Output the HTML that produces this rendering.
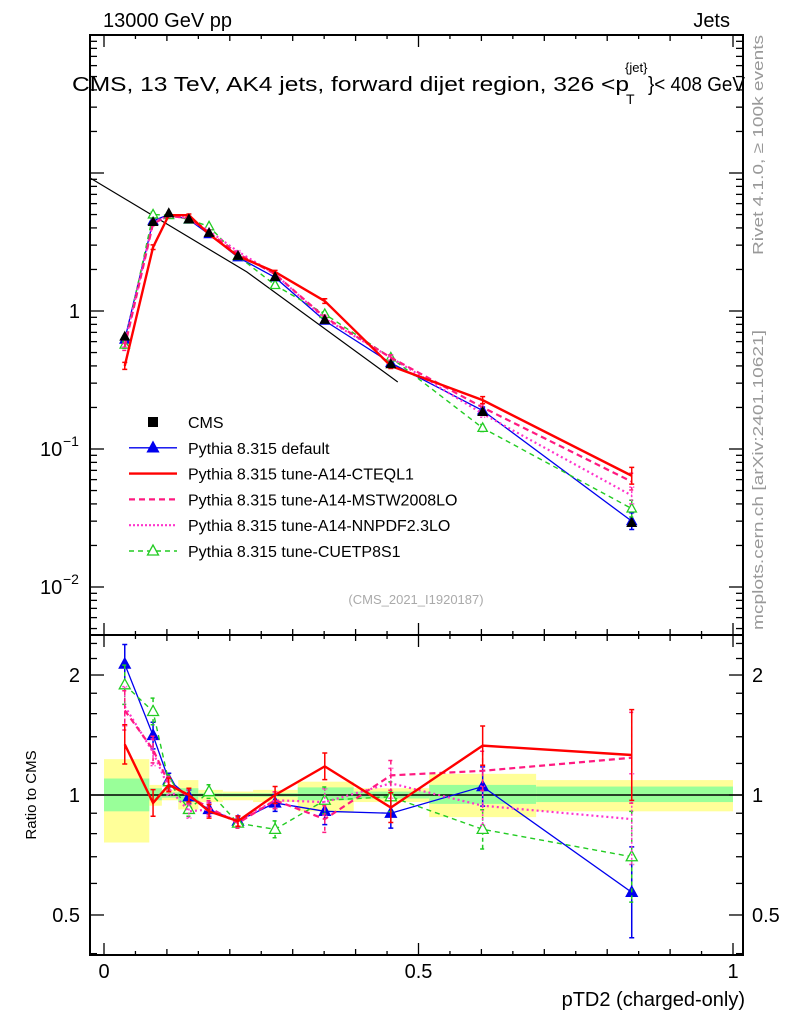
<!DOCTYPE html>
<html><head><meta charset="utf-8"><style>
html,body{margin:0;padding:0;background:#fff;}
svg{display:block;font-family:"Liberation Sans",sans-serif;}
</style></head><body>
<svg id="c" width="786" height="1024" viewBox="0 0 786 1024" xmlns="http://www.w3.org/2000/svg">
<g id="bands"></g>
<g id="maing"></g>
<g id="ratiog"></g>
<g id="axes"></g>
<text x="103" y="27" font-size="20">13000 GeV pp</text>
<text x="730" y="27" font-size="20" text-anchor="end">Jets</text>
<text x="72" y="91" font-size="20" textLength="557" lengthAdjust="spacingAndGlyphs">CMS, 13 TeV, AK4 jets, forward dijet region, 326 &lt;p</text>
<text x="625" y="72" font-size="13">{jet}</text>
<text x="626" y="104" font-size="14">T</text>
<text x="648" y="91" font-size="20" textLength="97" lengthAdjust="spacingAndGlyphs">}&lt; 408 GeV</text>
<text transform="translate(763,255) rotate(-90)" font-size="15" fill="#999" textLength="220" lengthAdjust="spacingAndGlyphs">Rivet 4.1.0, ≥ 100k events</text>
<text transform="translate(763,630) rotate(-90)" font-size="15" fill="#999" textLength="300" lengthAdjust="spacingAndGlyphs">mcplots.cern.ch [arXiv:2401.10621]</text>
<text x="416" y="604" font-size="13" fill="#aaa" text-anchor="middle">(CMS_2021_I1920187)</text>
<text transform="translate(36,795) rotate(-90)" font-size="15" text-anchor="middle">Ratio to CMS</text>
<text x="745" y="1006" font-size="20" text-anchor="end">pTD2 (charged-only)</text>
<g id="legend"></g>
</svg>
<script>
const xVals=[0.033,0.078,0.103,0.135,0.167,0.213,0.272,0.351,0.456,0.602,0.839];
const binEdges=[0,0.072,0.092,0.118,0.150,0.189,0.237,0.308,0.397,0.517,0.687,1.0];
const cmsMain=[0.65,4.4,5.1,4.6,3.67,2.5,1.76,0.86,0.41,0.185,0.029];
const defaultMain=[0.62,4.5,5.0,4.6,3.6,2.45,1.75,0.85,0.42,0.19,0.03];
const cteqMain=[0.40,2.9,4.95,4.95,3.6,2.5,1.92,1.18,0.40,0.226,0.064];
const mstwMain=[0.55,4.3,4.9,4.7,3.7,2.6,1.85,0.90,0.46,0.20,0.058];
const nnpdfMain=[0.58,4.4,4.9,4.7,3.8,2.7,1.85,0.88,0.46,0.18,0.046];
const cuetMain=[0.57,5.0,4.95,4.6,4.1,2.5,1.54,0.95,0.46,0.142,0.037];
const guideX=[-0.022,0.227,0.467];
const guideY=[9.2,1.92,0.306];
const defaultRatio=[2.13,1.41,1.09,0.99,0.92,0.86,0.955,0.91,0.90,1.05,0.57];
const cteqRatio=[1.34,0.955,1.06,1.0,0.91,0.86,1.0,1.18,0.93,1.33,1.26];
const mstwRatio=[1.63,1.30,1.07,0.99,0.93,0.85,0.97,0.87,1.12,1.15,1.24];
const nnpdfRatio=[1.67,1.28,1.04,0.91,0.92,0.86,0.97,0.96,1.07,0.94,0.87];
const cuetRatio=[1.89,1.62,1.08,0.92,1.02,0.85,0.82,0.97,0.99,0.82,0.70];
const ratioErr=[0.12,0.08,0.04,0.04,0.04,0.03,0.05,0.08,0.09,0.12,0.3];
const yellowUp=[1.23,1.06,1.03,1.09,1.03,1.02,1.03,1.08,1.04,1.13,1.09];
const yellowDn=[0.76,0.94,0.97,0.92,0.96,0.97,0.96,0.91,0.96,0.88,0.91];
const greenUp=[1.10,1.04,1.015,1.04,1.01,1.01,1.01,1.045,1.02,1.06,1.05];
const greenDn=[0.91,0.97,0.985,0.96,0.99,0.99,0.99,0.97,0.98,0.95,0.96];
const xTickLabels=["0","0.5","1"];
const ratioTickLabels=["0.5","1","2"];

const NS="http://www.w3.org/2000/svg";
const X0=104,X1=733,L=90,R=743,MT=35,MB=635,RB=955;
const sx=v=>X0+(X1-X0)*v;
const sy=v=>311-138*Math.log10(v);
const ry=v=>795-398.6*Math.log10(v);
function mk(parent,tag,attrs){const e=document.createElementNS(NS,tag);for(const k in attrs)e.setAttribute(k,attrs[k]);parent.appendChild(e);return e;}
const bands=document.getElementById('bands'),mg=document.getElementById('maing'),rg=document.getElementById('ratiog'),ax=document.getElementById('axes'),lg=document.getElementById('legend');

for(let i=0;i<xVals.length;i++){
  const a=sx(binEdges[i]),b=sx(binEdges[i+1]);
  const y1=mk(bands,'rect',{x:a,y:ry(yellowUp[i]),width:b-a,height:ry(yellowDn[i])-ry(yellowUp[i]),fill:'#ffff99'});
  
  
  const g1=mk(bands,'rect',{x:a,y:ry(greenUp[i]),width:b-a,height:ry(greenDn[i])-ry(greenUp[i]),fill:'#99ff99'});
  
  
}
const one=mk(rg,'line',{x1:L,x2:R,y1:ry(1),y2:ry(1),stroke:'#000','stroke-width':1.5});



const gl=mk(mg,'polyline',{points:guideX.map((x,i)=>sx(x)+','+sy(guideY[i])).join(' '),fill:'none',stroke:'#000','stroke-width':1.2});



function tri(parent,x,y,col,filled,name,s){
  s=s||1;
  const t=mk(parent,'polygon',{points:`${x},${y-6*s} ${x-5.5*s},${y+4*s} ${x+5.5*s},${y+4*s}`,fill:filled?col:'#fff',stroke:col,'stroke-width':1.3});
  
  
}
const series=[
 {n:'default',main:defaultMain,ratio:defaultRatio,col:'#0000ee',w:1.3,dash:null,m:'fill'},
 {n:'cuetp8s1',main:cuetMain,ratio:cuetRatio,col:'#22cc22',w:1.4,dash:'5,4',m:'open'},
 {n:'nnpdf',main:nnpdfMain,ratio:nnpdfRatio,col:'#ff33cc',w:2.2,dash:'2,3',m:null},
 {n:'mstw',main:mstwMain,ratio:mstwRatio,col:'#ff1a80',w:2.2,dash:'6,4',m:null},
 {n:'cteql1',main:cteqMain,ratio:cteqRatio,col:'#ff0000',w:2.4,dash:null,m:null}
];
function drawSeries(parent,s,vals,yf,err,isMain){
  const pl=mk(parent,'polyline',{points:vals.map((v,i)=>sx(xVals[i])+','+yf(v)).join(' '),fill:'none',stroke:s.col,'stroke-width':s.w});
  if(s.dash)pl.setAttribute('stroke-dasharray',s.dash);
  
  
  vals.forEach((v,i)=>{
    const e=isMain?err[i]*0.5:err[i];
    const up=yf(v*(1+e)),dn=yf(v/(1+e)),x=sx(xVals[i]);
    const eb=mk(parent,'path',{d:`M${x},${up}V${dn}M${x-2.5},${up}H${x+2.5}M${x-2.5},${dn}H${x+2.5}`,stroke:s.col,'stroke-width':1.5,fill:'none'});
    if(s.dash)eb.setAttribute('stroke-dasharray',s.dash==='2,3'?'2,2':'4,3');
    
    
    if(s.m)tri(parent,x,yf(v),s.col,s.m==='fill',s.n+'-marker',isMain?0.85:1);
  });
}
series.forEach(s=>drawSeries(mg,s,s.main,sy,ratioErr,true));
cmsMain.forEach((v,i)=>{tri(mg,sx(xVals[i]),sy(v),'#000',true,'cms-point',0.8);});
series.forEach(s=>drawSeries(rg,s,s.ratio,ry,ratioErr,false));

[[MT,MB],[MB,RB]].forEach(([t,b],k)=>{
  const r=mk(ax,'rect',{x:L,y:t,width:R-L,height:b-t,fill:'none',stroke:'#000','stroke-width':2});
  
  
});
for(let k=0;k<=20;k++){
  const v=k*0.05,x=sx(v),len=(k%10===0)?12:(k%2===0?6:4);
  [[MT,1],[MB,-1],[MB,1],[RB,-1]].forEach(([y,d])=>{
    const t=mk(ax,'line',{x1:x,x2:x,y1:y,y2:y+d*len,stroke:'#000','stroke-width':1.3});
    
    
  });
}
xTickLabels.forEach((s,i)=>{
  const t=mk(ax,'text',{x:sx(i*0.5),y:978,'font-size':20,'text-anchor':'middle'});t.textContent=s;
  
  
});
for(let d=-3;d<=1;d++){for(let m=1;m<=9;m++){
  const v=m*Math.pow(10,d),y=sy(v);if(y<MT||y>MB)continue;
  const len=m===1?14:7;
  [[L,1],[R,-1]].forEach(([x,dd])=>{
    const t=mk(ax,'line',{x1:x,x2:x+dd*len,y1:y,y2:y,stroke:'#000','stroke-width':1.3});
    
    
  });
}}
const lab1=mk(ax,'text',{x:80,y:sy(1)+7,'font-size':20,'text-anchor':'end'});lab1.textContent='1';


[-1,-2].forEach(p=>{
  const t=mk(ax,'text',{x:40,y:sy(Math.pow(10,p))+7,'font-size':20});t.textContent='10';
  
  
  const s=mk(ax,'text',{x:63,y:sy(Math.pow(10,p))-3,'font-size':14});s.textContent='−'+(-p);
  
  
});
[0.4,0.5,0.6,0.7,0.8,0.9,1,1.2,1.4,1.6,1.8,2,2.2,2.4].forEach(v=>{
  const y=ry(v);if(y<MB||y>RB)return;
  const len=(v===0.5||v===1||v===2)?14:7;
  [[L,1],[R,-1]].forEach(([x,dd])=>{
    const t=mk(ax,'line',{x1:x,x2:x+dd*len,y1:y,y2:y,stroke:'#000','stroke-width':1.3});
    
    
  });
});
ratioTickLabels.forEach(s=>{
  const y=ry(parseFloat(s))+7;
  const a=mk(ax,'text',{x:80,y:y,'font-size':20,'text-anchor':'end'});a.textContent=s;
  
  
  const b=mk(ax,'text',{x:752,y:y,'font-size':20});b.textContent=s;
  
  
});
const legItems=[
 {t:'CMS',col:'#000',dash:null,w:0,m:'sq'},
 {t:'Pythia 8.315 default',col:'#0000ee',dash:null,w:1.3,m:'fill'},
 {t:'Pythia 8.315 tune-A14-CTEQL1',col:'#ff0000',dash:null,w:2.4,m:null},
 {t:'Pythia 8.315 tune-A14-MSTW2008LO',col:'#ff1a80',dash:'6,4',w:2.2,m:null},
 {t:'Pythia 8.315 tune-A14-NNPDF2.3LO',col:'#ff33cc',dash:'2,2',w:2.2,m:null},
 {t:'Pythia 8.315 tune-CUETP8S1',col:'#22cc22',dash:'5,4',w:1.4,m:'open'}
];
legItems.forEach((it,i)=>{
  const y=422+25.8*i;
  if(it.w){const l=mk(lg,'line',{x1:129,x2:177,y1:y,y2:y,stroke:it.col,'stroke-width':it.w});if(it.dash)l.setAttribute('stroke-dasharray',it.dash);
    
    }
  if(it.m==='sq'){const r=mk(lg,'rect',{x:148,y:y-5,width:10,height:10,fill:'#000'});
    
    }
  else if(it.m)tri(lg,153,y,it.col,it.m==='fill','legend-marker');
  const t=mk(lg,'text',{x:188,y:y+6,'font-size':16});t.textContent=it.t;
  
  
});
</script>
</body></html>
